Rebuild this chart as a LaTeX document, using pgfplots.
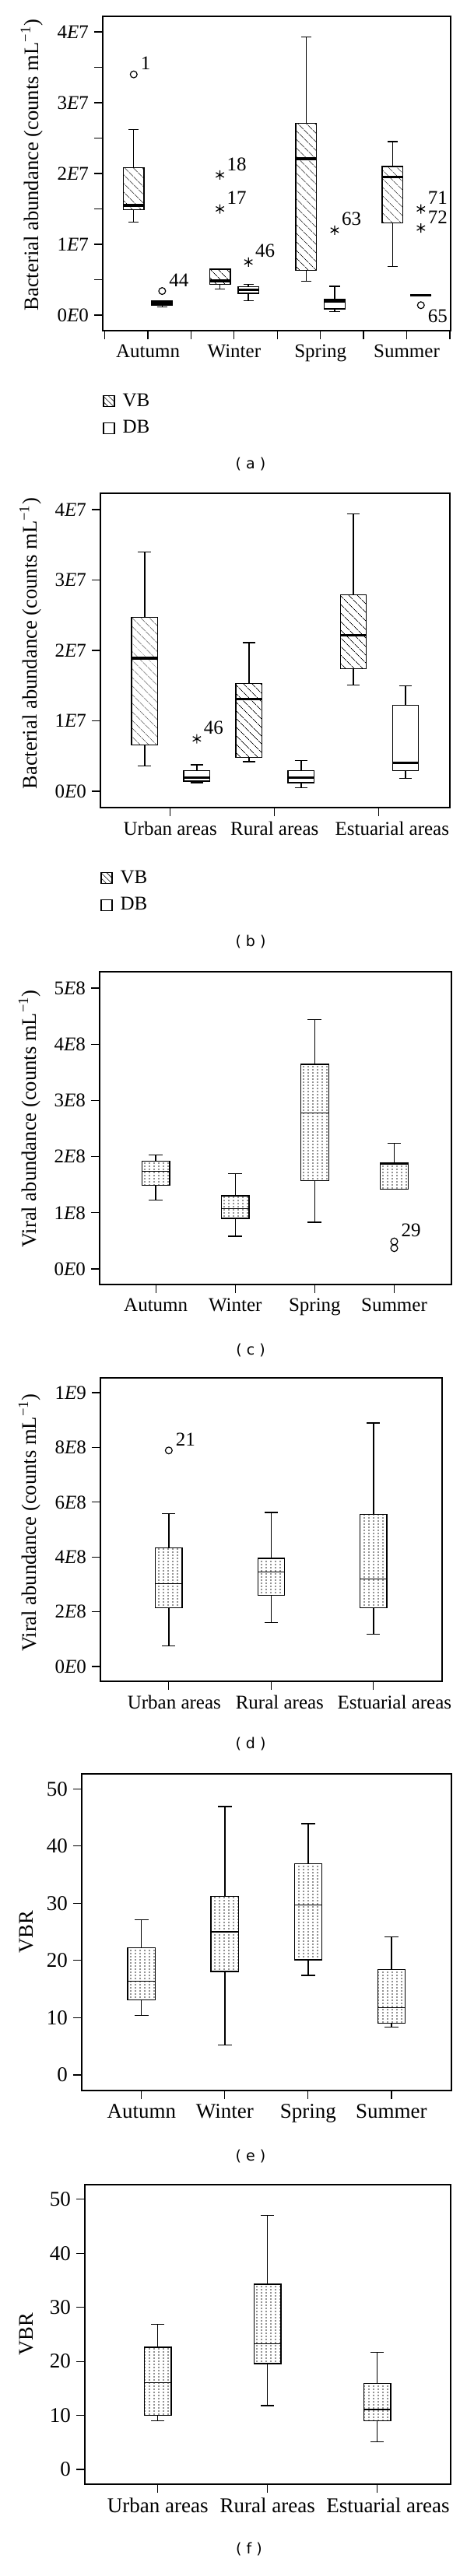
\documentclass[border=0pt]{standalone}
\usepackage{fontspec}
\setmainfont{Liberation Serif}
\newfontfamily\capfont{DejaVu Sans}
\usepackage{pgfplots}
\pgfplotsset{compat=1.18}
\usepgfplotslibrary{statistics}
\usetikzlibrary{patterns,patterns.meta}

\pgfdeclarepatternformonly{vdots}{\pgfqpoint{-0.6pt}{-0.6pt}}{\pgfqpoint{0.6pt}{0.6pt}}{\pgfqpoint{3pt}{2pt}}{%
  \pgfpathcircle{\pgfqpoint{0pt}{0pt}}{0.4pt}\pgfusepath{fill}}

\tikzset{lbl/.style={anchor=west, xshift=1pt, yshift=7pt, font=\fontsize{12.5}{14}\selectfont}}
\pgfplotsset{
  panel/.style={
    scale only axis, anchor=south west, clip=false,
    axis line style={line width=0.75pt},
    tick style={line width=0.6pt, black},
    tick align=outside, xtick pos=left, ytick pos=left,
    major tick length=5.5pt, minor tick length=5.5pt,
    tick label style={font=\fontsize{12.5}{14}\selectfont},
    label style={font=\fontsize{13.3}{15}\selectfont},
    boxplot/draw direction=y,
  },
  vb/.style={draw=black, line width=0.7pt, solid,
    boxplot/every box/.style={pattern={Lines[angle=-45,distance=4pt,line width=0.3pt]}},
    boxplot/every median/.style={line width=1.6pt}},
  db/.style={draw=black, line width=0.7pt, solid,
    boxplot/every median/.style={line width=1.6pt}},
  dt/.style={draw=black, line width=0.7pt, solid,
    boxplot/every box/.style={pattern=vdots, pattern color=black!85}},
  circ/.style={only marks, mark=o, mark size=2.2pt, line width=0.6pt, black},
  ast/.style={only marks, mark=asterisk, mark size=3pt, line width=0.6pt, black},
  leg/.style={
    legend style={at={(axis description cs:0,-0.19)}, anchor=north west, draw=none, fill=none,
      inner sep=0pt, row sep=3.5pt, font=\fontsize{12.5}{14}\selectfont,
      /tikz/every odd column/.style={column sep=3pt}},
    legend cell align=left},
}

\begin{document}
\begin{tikzpicture}
\path[use as bounding box] (0,0) rectangle (300pt,-1655.5pt);

% ---------------- (a)
\begin{axis}[panel, leg, at={(66pt,-212.5pt)}, width=223.5pt, height=202pt,
  xmin=0.476, xmax=4.51, ymin=-0.22, ymax=4.22,
  xtick={1,2,3,4}, xticklabels={Autumn,Winter,Spring,Summer},
  minor xtick={0.5,1.5,2.5,3.5,4.5},
  ytick={0,1,2,3,4}, minor ytick={0.5,1.5,2.5,3.5},
  yticklabels={0\textit{E}0,1\textit{E}7,2\textit{E}7,3\textit{E}7,4\textit{E}7},
  ylabel={Bacterial abundance (counts mL\textsuperscript{−1})},
  ylabel style={at={(axis description cs:-0.204,0.527)}, anchor=center}]
\addlegendimage{legend image code/.code={\draw[line width=0.6pt, pattern={Lines[angle=-45,distance=2.5pt,line width=0.3pt]}] (0pt,-3.5pt) rectangle (7pt,3.5pt);}}
\addlegendimage{legend image code/.code={\draw[line width=0.6pt] (0pt,-3.5pt) rectangle (7pt,3.5pt);}}
\legend{VB,DB}
\addplot[vb, boxplot prepared={draw position=0.835, lower whisker=1.31, lower quartile=1.49, median=1.55, upper quartile=2.08, upper whisker=2.62, box extend=0.24, whisker extend=0.12}] coordinates {};
\addplot[db, boxplot prepared={draw position=1.165, lower whisker=0.114, lower quartile=0.141, median=0.17, upper quartile=0.196, upper whisker=0.196, box extend=0.24, whisker extend=0.12}] coordinates {};
\addplot[vb, boxplot prepared={draw position=1.835, lower whisker=0.365, lower quartile=0.436, median=0.483, upper quartile=0.648, upper whisker=0.648, box extend=0.24, whisker extend=0.12}] coordinates {};
\addplot[db, boxplot prepared={draw position=2.165, lower whisker=0.20, lower quartile=0.306, median=0.354, upper quartile=0.40, upper whisker=0.436, box extend=0.24, whisker extend=0.12}] coordinates {};
\addplot[vb, boxplot prepared={draw position=2.835, lower whisker=0.475, lower quartile=0.633, median=2.21, upper quartile=2.71, upper whisker=3.93, box extend=0.24, whisker extend=0.12}] coordinates {};
\addplot[db, boxplot prepared={draw position=3.165, lower whisker=0.051, lower quartile=0.09, median=0.19, upper quartile=0.22, upper whisker=0.405, box extend=0.24, whisker extend=0.12}] coordinates {};
\addplot[vb, boxplot prepared={draw position=3.835, lower whisker=0.69, lower quartile=1.30, median=1.95, upper quartile=2.10, upper whisker=2.45, box extend=0.24, whisker extend=0.12}] coordinates {};
\addplot[db, boxplot prepared={draw position=4.165, lower whisker=0.28, lower quartile=0.28, median=0.28, upper quartile=0.28, upper whisker=0.28, box extend=0.24, whisker extend=0.12}] coordinates {};
\addplot[circ] coordinates {(0.835,3.40) (1.165,0.34) (4.165,0.14)};
\addplot[ast] coordinates {(1.835,1.98) (1.835,1.50) (2.165,0.75) (3.165,1.20) (4.165,1.50) (4.165,1.23)};
\node[lbl] at (axis cs:0.835,3.40) {1};
\node[lbl] at (axis cs:1.165,0.34) {44};
\node[lbl] at (axis cs:1.835,1.98) {18};
\node[lbl] at (axis cs:1.835,1.50) {17};
\node[lbl] at (axis cs:2.165,0.75) {46};
\node[lbl] at (axis cs:3.165,1.20) {63};
\node[lbl] at (axis cs:4.165,1.50) {71};
\node[lbl] at (axis cs:4.165,1.23) {72};
\node[lbl, yshift=-14pt] at (axis cs:4.165,0.14) {65};
\end{axis}
\node[font=\capfont\fontsize{9.5}{11}\selectfont] at (161pt,-298.5pt) {( a )};

% ---------------- (b)
\begin{axis}[panel, leg, at={(64.5pt,-519pt)}, width=224.5pt, height=202pt,
  xmin=0.331, xmax=3.68, ymin=-0.232, ymax=4.232,
  xtick={1,2,3}, xticklabels={Urban areas,Rural areas,\hspace*{17pt}Estuarial areas},
  ytick={0,1,2,3,4},
  yticklabels={0\textit{E}0,1\textit{E}7,2\textit{E}7,3\textit{E}7,4\textit{E}7},
  ylabel={Bacterial abundance (counts mL\textsuperscript{−1})},
  ylabel style={at={(axis description cs:-0.200,0.522)}, anchor=center}]
\addlegendimage{legend image code/.code={\draw[line width=0.6pt, pattern={Lines[angle=-45,distance=2.5pt,line width=0.3pt]}] (0pt,-3.5pt) rectangle (7pt,3.5pt);}}
\addlegendimage{legend image code/.code={\draw[line width=0.6pt] (0pt,-3.5pt) rectangle (7pt,3.5pt);}}
\legend{VB,DB}
\addplot[vb, boxplot prepared={draw position=0.755, lower whisker=0.36, lower quartile=0.66, median=1.89, upper quartile=2.47, upper whisker=3.40, box extend=0.25, whisker extend=0.125}] coordinates {};
\addplot[db, boxplot prepared={draw position=1.255, lower whisker=0.12, lower quartile=0.143, median=0.19, upper quartile=0.294, upper whisker=0.376, box extend=0.25, whisker extend=0.125}] coordinates {};
\addplot[vb, boxplot prepared={draw position=1.755, lower whisker=0.42, lower quartile=0.48, median=1.31, upper quartile=1.53, upper whisker=2.11, box extend=0.25, whisker extend=0.125}] coordinates {};
\addplot[db, boxplot prepared={draw position=2.255, lower whisker=0.053, lower quartile=0.123, median=0.196, upper quartile=0.294, upper whisker=0.44, box extend=0.25, whisker extend=0.125}] coordinates {};
\addplot[vb, boxplot prepared={draw position=2.755, lower whisker=1.51, lower quartile=1.74, median=2.22, upper quartile=2.79, upper whisker=3.94, box extend=0.25, whisker extend=0.125}] coordinates {};
\addplot[db, boxplot prepared={draw position=3.255, lower whisker=0.18, lower quartile=0.294, median=0.40, upper quartile=1.22, upper whisker=1.50, box extend=0.25, whisker extend=0.125}] coordinates {};
\addplot[ast] coordinates {(1.255,0.744)};
\node[lbl] at (axis cs:1.255,0.744) {46};
\end{axis}
\node[font=\capfont\fontsize{9.5}{11}\selectfont] at (161pt,-605.5pt) {( b )};

% ---------------- (c)
\begin{axis}[panel, at={(64pt,-825.5pt)}, width=226pt, height=201pt,
  xmin=0.293, xmax=4.72, ymin=-0.277, ymax=5.29,
  xtick={1,2,3,4}, xticklabels={Autumn,Winter,Spring,Summer},
  ytick={0,1,2,3,4,5},
  yticklabels={0\textit{E}0,1\textit{E}8,2\textit{E}8,3\textit{E}8,4\textit{E}8,5\textit{E}8},
  ylabel={Viral abundance (counts mL\textsuperscript{−1})},
  ylabel style={at={(axis description cs:-0.199,0.53)}, anchor=center}]
\addplot[dt, boxplot prepared={draw position=1, lower whisker=1.23, lower quartile=1.49, median=1.74, upper quartile=1.92, upper whisker=2.03, box extend=0.35, whisker extend=0.175}] coordinates {};
\addplot[dt, boxplot prepared={draw position=2, lower whisker=0.58, lower quartile=0.90, median=1.07, upper quartile=1.30, upper whisker=1.70, box extend=0.35, whisker extend=0.175}] coordinates {};
\addplot[dt, boxplot prepared={draw position=3, lower whisker=0.83, lower quartile=1.57, median=2.78, upper quartile=3.64, upper whisker=4.44, box extend=0.35, whisker extend=0.175}] coordinates {};
\addplot[dt, boxplot prepared={draw position=4, lower whisker=1.42, lower quartile=1.42, median=1.87, upper quartile=1.89, upper whisker=2.24, box extend=0.35, whisker extend=0.175}] coordinates {};
\addplot[circ] coordinates {(4,0.49) (4,0.37)};
\node[lbl] at (axis cs:4,0.49) {29};
\end{axis}
\node[font=\capfont\fontsize{9.5}{11}\selectfont] at (161pt,-868pt) {( c )};

% ---------------- (d)
\begin{axis}[panel, at={(64.5pt,-1080.5pt)}, width=219.5pt, height=195pt,
  xmin=0.332, xmax=3.67, ymin=-0.54, ymax=10.54,
  xtick={1,2,3}, xticklabels={\hspace*{7pt}Urban areas,\hspace*{11pt}Rural areas,\hspace*{27pt}Estuarial areas},
  ytick={0,2,4,6,8,10},
  yticklabels={0\textit{E}0,2\textit{E}8,4\textit{E}8,6\textit{E}8,8\textit{E}8,1\textit{E}9},
  ylabel={Viral abundance (counts mL\textsuperscript{−1})},
  ylabel style={at={(axis description cs:-0.207,0.523)}, anchor=center}]
\addplot[dt, boxplot prepared={draw position=1, lower whisker=0.76, lower quartile=2.14, median=3.03, upper quartile=4.34, upper whisker=5.58, box extend=0.26, whisker extend=0.13}] coordinates {};
\addplot[dt, boxplot prepared={draw position=2, lower whisker=1.60, lower quartile=2.60, median=3.45, upper quartile=3.95, upper whisker=5.63, box extend=0.26, whisker extend=0.13}] coordinates {};
\addplot[dt, boxplot prepared={draw position=3, lower whisker=1.18, lower quartile=2.14, median=3.20, upper quartile=5.55, upper whisker=8.89, box extend=0.26, whisker extend=0.13}] coordinates {};
\addplot[circ] coordinates {(1,7.89)};
\node[lbl] at (axis cs:1,7.89) {21};
\end{axis}
\node[font=\capfont\fontsize{9.5}{11}\selectfont] at (161pt,-1121pt) {( d )};

% ---------------- (e)
\begin{axis}[panel, at={(52.5pt,-1343.5pt)}, width=237.5pt, height=203.5pt,
  xmin=0.283, xmax=4.72, ymin=-2.72, ymax=52.6,
  tick label style={font=\fontsize{13.5}{15}\selectfont},
  xtick={1,2,3,4}, xticklabels={Autumn,Winter,Spring,Summer},
  ytick={0,10,20,30,40,50}, yticklabels={0,10,20,30,40,50},
  ylabel={VBR},
  ylabel style={at={(axis description cs:-0.149,0.5)}, anchor=center}]
\addplot[dt, boxplot prepared={draw position=1, lower whisker=10.4, lower quartile=13.1, median=16.4, upper quartile=22.2, upper whisker=27.1, box extend=0.33, whisker extend=0.165}] coordinates {};
\addplot[dt, boxplot prepared={draw position=2, lower whisker=5.2, lower quartile=18.1, median=25.0, upper quartile=31.2, upper whisker=46.9, box extend=0.33, whisker extend=0.165}] coordinates {};
\addplot[dt, boxplot prepared={draw position=3, lower whisker=17.4, lower quartile=20.1, median=29.7, upper quartile=36.9, upper whisker=43.9, box extend=0.33, whisker extend=0.165}] coordinates {};
\addplot[dt, boxplot prepared={draw position=4, lower whisker=8.36, lower quartile=9.06, median=11.8, upper quartile=18.4, upper whisker=24.1, box extend=0.33, whisker extend=0.165}] coordinates {};
\end{axis}
\node[font=\capfont\fontsize{9.5}{11}\selectfont] at (161pt,-1386pt) {( e )};

% ---------------- (f)
\begin{axis}[panel, at={(54.5pt,-1596.5pt)}, width=235pt, height=192.5pt,
  xmin=0.335, xmax=3.67, ymin=-2.74, ymax=52.7,
  tick label style={font=\fontsize{13.5}{15}\selectfont},
  xtick={1,2,3}, xticklabels={Urban areas,Rural areas,\hspace*{14pt}Estuarial areas},
  ytick={0,10,20,30,40,50}, yticklabels={0,10,20,30,40,50},
  ylabel={VBR},
  ylabel style={at={(axis description cs:-0.16,0.5)}, anchor=center}]
\addplot[dt, boxplot prepared={draw position=1, lower whisker=8.96, lower quartile=10.0, median=16.1, upper quartile=22.6, upper whisker=26.9, box extend=0.245, whisker extend=0.1225}] coordinates {};
\addplot[dt, boxplot prepared={draw position=2, lower whisker=11.8, lower quartile=19.6, median=23.3, upper quartile=34.3, upper whisker=47.0, box extend=0.245, whisker extend=0.1225}] coordinates {};
\addplot[dt, boxplot prepared={draw position=3, lower whisker=5.15, lower quartile=8.96, median=11.1, upper quartile=15.9, upper whisker=21.7, box extend=0.245, whisker extend=0.1225}] coordinates {};
\end{axis}
\node[font=\capfont\fontsize{9.5}{11}\selectfont] at (160pt,-1638pt) {( f )};
\end{tikzpicture}
\end{document}
